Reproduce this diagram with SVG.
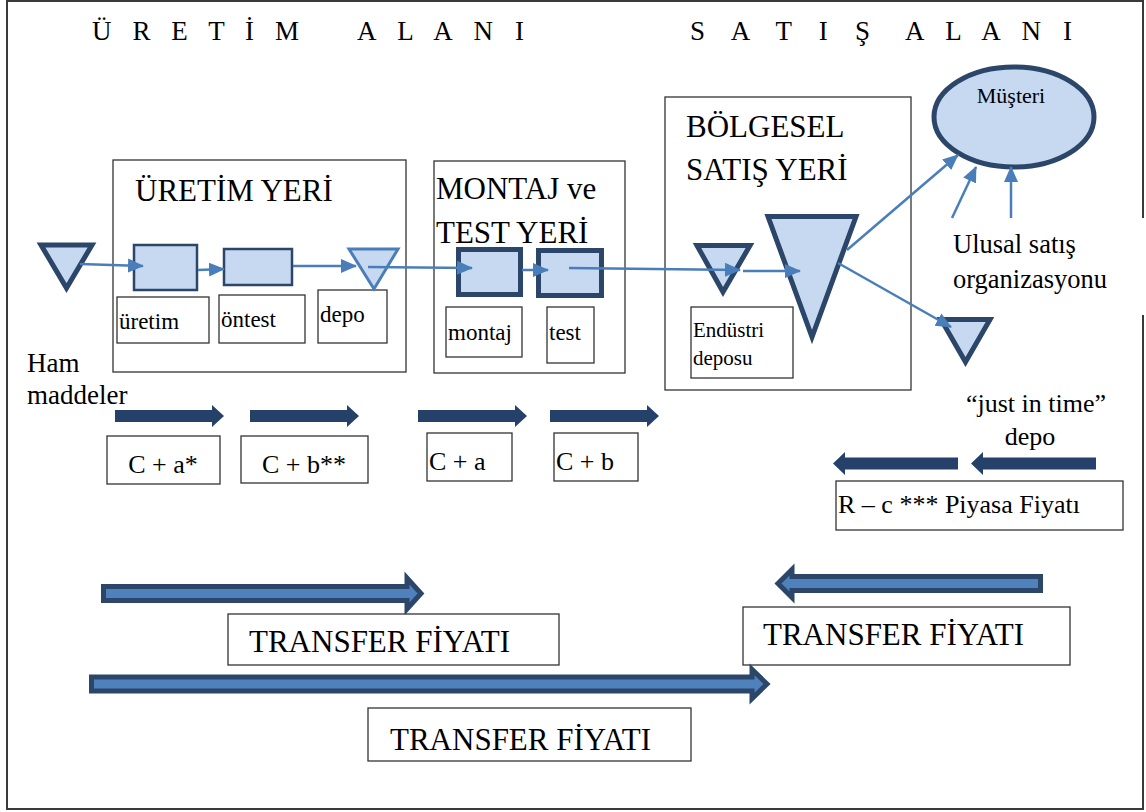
<svg xmlns="http://www.w3.org/2000/svg" width="1146" height="812" viewBox="0 0 1146 812" font-family="'Liberation Serif', 'Times New Roman', serif">
  <style>
    text { font-family: "Liberation Serif", "Times New Roman", serif; fill: #000; }
    .frame { fill: none; stroke: #3a3a3a; stroke-width: 2; }
    .box { fill: #fff; stroke: #333; stroke-width: 1.3; }
    .proc { fill: #c6d9f1; stroke: #2b4669; stroke-width: 2.5; }
    .proc-heavy { fill: #c6d9f1; stroke: #2b4669; stroke-width: 5; }
    .store { fill: #c6d9f1; stroke: #2b4669; stroke-width: 5; stroke-linejoin: miter; }
    .store-light { fill: #c6d9f1; stroke: #4a7ebb; stroke-width: 3; }
    .flow { fill: none; stroke: #4a7ebb; stroke-width: 2.5; marker-end: url(#head); }
    .cost { fill: #25416a; }
    .transfer { fill: #4f81bd; stroke: #2b4669; stroke-width: 5; stroke-linejoin: miter; }
  </style>
  <defs>
    <marker id="head" markerUnits="userSpaceOnUse" markerWidth="16" markerHeight="16" viewBox="0 0 16 16" refX="15" refY="8" orient="auto">
      <path d="M0,1 L16,8 L0,15 Z" fill="#4a7ebb"/>
    </marker>
  </defs>

  <rect width="1146" height="812" fill="#fff"/>
  <!-- page frame, open on the right beside the sales organisation label -->
  <path class="frame" d="M1143,218 V1 H7 V809 H1143 V315"/>

  <!-- area headings -->
  <g id="basliklar" font-size="27">
    <text x="92" y="40" textLength="207" lengthAdjust="spacing">Ü R E T İ M</text>
    <text x="357" y="40" textLength="167" lengthAdjust="spacing">A L A N I</text>
    <text x="690" y="40" textLength="180" lengthAdjust="spacing">S A T I Ş</text>
    <text x="905" y="40" textLength="167" lengthAdjust="spacing">A L A N I</text>
  </g>

  <!-- production site -->
  <g id="uretim-yeri">
    <rect class="box" x="113" y="160" width="293" height="212"/>
    <text x="135" y="201" font-size="31">ÜRETİM YERİ</text>
  </g>
  <g id="ham-madde">
    <polygon class="store" points="41,245 92,245 66.5,288"/>
    <text x="27" y="372" font-size="27">Ham</text>
    <text x="27" y="404" font-size="27">maddeler</text>
  </g>
  <g id="uretim">
    <rect class="proc" x="134" y="245" width="63" height="45"/>
    <rect class="box" x="117" y="297" width="92" height="46"/>
    <text x="119" y="329" font-size="23">üretim</text>
  </g>
  <g id="ontest">
    <rect class="proc" x="224" y="249" width="68" height="36"/>
    <rect class="box" x="219" y="295" width="86" height="48"/>
    <text x="221" y="327" font-size="23">öntest</text>
  </g>
  <g id="depo">
    <rect class="box" x="318" y="290" width="69" height="53"/>
    <polygon class="store-light" points="349,249 398,249 374,289"/>
    <text x="320" y="322" font-size="23">depo</text>
  </g>

  <!-- assembly and test site -->
  <g id="montaj-test-yeri">
    <rect class="box" x="434" y="161" width="191" height="212"/>
    <text x="436" y="199" font-size="31">MONTAJ ve</text>
    <text x="436" y="243" font-size="31">TEST YERİ</text>
  </g>
  <g id="montaj">
    <rect class="proc-heavy" x="458.5" y="249.5" width="62" height="45"/>
    <rect class="box" x="446" y="307" width="76" height="50"/>
    <text x="448" y="340" font-size="23">montaj</text>
  </g>
  <g id="test">
    <rect class="proc-heavy" x="538.5" y="250.5" width="63" height="45"/>
    <rect class="box" x="547" y="307" width="47" height="56"/>
    <text x="549" y="340" font-size="23">test</text>
  </g>

  <!-- regional sales site -->
  <g id="bolgesel-satis-yeri">
    <rect class="box" x="665" y="97" width="246" height="293"/>
    <text x="686" y="137" font-size="31">BÖLGESEL</text>
    <text x="686" y="180" font-size="31">SATIŞ YERİ</text>
  </g>
  <g id="endustri-deposu">
    <polygon class="store" points="697,245.5 750,245.5 723,292"/>
    <rect class="box" x="691" y="307" width="102" height="71"/>
    <text x="693" y="337" font-size="21">Endüstri</text>
    <text x="693" y="365" font-size="21">deposu</text>
  </g>
  <g id="bolge-deposu">
    <polygon class="store" points="768,216.5 856,216.5 812,337"/>
  </g>

  <!-- customer, national sales, just-in-time store -->
  <g id="musteri">
    <ellipse cx="1014" cy="117" rx="80" ry="50" fill="#c6d9f1" stroke="#2b4669" stroke-width="5"/>
    <text x="1011" y="103" font-size="22" text-anchor="middle">Müşteri</text>
  </g>
  <g id="ulusal-satis">
    <text x="953" y="253" font-size="26.5">Ulusal satış</text>
    <text x="953" y="288" font-size="26.5">organizasyonu</text>
  </g>
  <g id="jit-depo">
    <polygon class="store" points="941,319.5 990,319.5 965.5,362"/>
    <text x="1036" y="412" font-size="26" text-anchor="middle">“just in time”</text>
    <text x="1030" y="445" font-size="26" text-anchor="middle">depo</text>
  </g>

  <!-- material flow -->
  <g id="connectors">
    <line class="flow" x1="80" y1="264" x2="143" y2="266"/>
    <line class="flow" x1="198" y1="270" x2="224" y2="269"/>
    <line class="flow" x1="293" y1="266" x2="356" y2="266"/>
    <line class="flow" x1="368" y1="267" x2="472" y2="268"/>
    <line class="flow" x1="522" y1="270" x2="548" y2="270"/>
    <line class="flow" x1="569" y1="268" x2="740" y2="270"/>
    <line class="flow" x1="743" y1="271" x2="800" y2="271"/>
    <line class="flow" x1="847" y1="250" x2="958" y2="155"/>
    <line class="flow" x1="838" y1="263" x2="951" y2="327"/>
    <line class="flow" x1="952" y1="218" x2="976" y2="167"/>
    <line class="flow" x1="1011" y1="218" x2="1011" y2="167"/>
  </g>

  <!-- cost build-up -->
  <g id="maliyet">
    <path class="cost" d="M115,410 H212 V405 L224,416 L212,427 V422 H115 Z"/>
    <path class="cost" d="M250,410 H347 V405 L359,416 L347,427 V422 H250 Z"/>
    <path class="cost" d="M418,410 H515 V405 L527,416 L515,427 V422 H418 Z"/>
    <path class="cost" d="M550,410 H647 V405 L659,416 L647,427 V422 H550 Z"/>
    <rect class="box" x="107" y="436" width="113" height="48"/>
    <text x="163" y="473" font-size="26" text-anchor="middle">C + a*</text>
    <rect class="box" x="241" y="436" width="127" height="47"/>
    <text x="304" y="473" font-size="26" text-anchor="middle">C + b**</text>
    <rect class="box" x="427" y="433" width="85" height="48"/>
    <text x="429" y="470" font-size="26">C + a</text>
    <rect class="box" x="554" y="433" width="84" height="48"/>
    <text x="556" y="470" font-size="26">C + b</text>
  </g>

  <!-- market price -->
  <g id="piyasa">
    <path class="cost" d="M958,457.5 H845 V452 L833,463.5 L845,475 V469.5 H958 Z"/>
    <path class="cost" d="M1096,457.5 H983 V452 L971,463.5 L983,475 V469.5 H1096 Z"/>
    <rect class="box" x="836" y="481" width="287" height="49"/>
    <text x="838" y="513" font-size="26">R – c *** Piyasa Fiyatı</text>
  </g>

  <!-- transfer prices -->
  <g id="transfer-1">
    <path class="transfer" d="M103.5,586.5 H407 V578 L421,593.5 L407,609 V600.5 H103.5 Z"/>
    <rect class="box" x="228" y="614" width="331" height="51"/>
    <text x="249" y="652" font-size="31">TRANSFER FİYATI</text>
  </g>
  <g id="transfer-2">
    <path class="transfer" d="M1040.5,576.5 H792 V569.5 L778,583.5 L792,597.5 V590.5 H1040.5 Z"/>
    <rect class="box" x="743" y="607" width="327" height="58"/>
    <text x="763" y="645" font-size="31">TRANSFER FİYATI</text>
  </g>
  <g id="transfer-3">
    <path class="transfer" d="M91.5,677 H752 V669.5 L767,684 L752,698.5 V691 H91.5 Z"/>
    <rect class="box" x="368" y="708" width="323" height="53"/>
    <text x="390" y="750" font-size="31">TRANSFER FİYATI</text>
  </g>
</svg>
